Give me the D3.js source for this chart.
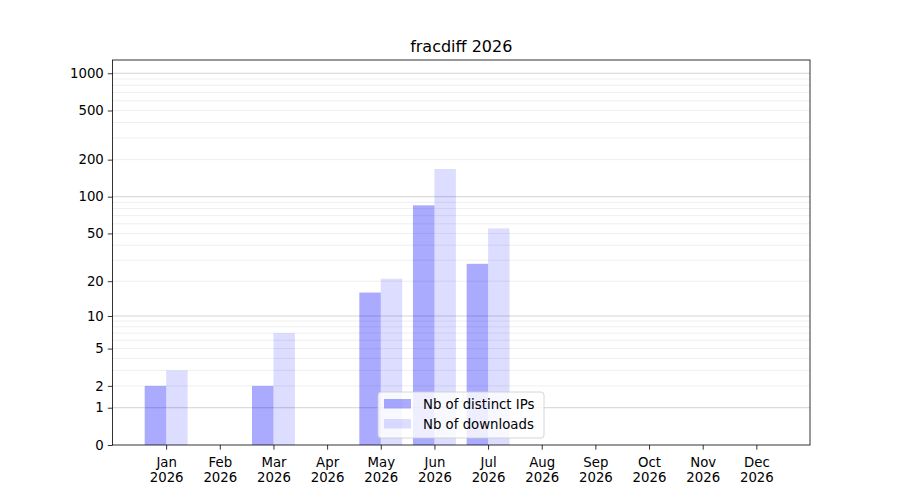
<!DOCTYPE html>
<html lang="en">
<head>
<meta charset="UTF-8">
<title>fracdiff 2026</title>
<script src="https://d3js.org/d3.v7.min.js"></script>
<style>
  body { margin: 0; background: #fff; }
  svg { font-family: "DejaVu Sans", sans-serif; }
</style>
</head>
<body>
<svg width="900" height="500"></svg>
<script>
// data
const months = ["Jan", "Feb", "Mar", "Apr", "May", "Jun", "Jul", "Aug", "Sep", "Oct", "Nov", "Dec"];
const year = "2026";
const distinctIPs = [2, 0, 2, 0, 16, 85, 28, 0, 0, 0, 0, 0];
const downloads = [3, 0, 7, 0, 21, 168, 55, 0, 0, 0, 0, 0];
const yTicks = [0, 1, 2, 5, 10, 20, 50, 100, 200, 500, 1000];
const majorGrid = [1, 10, 100, 1000];
const minorGrid = [];
[1, 10, 100].forEach(d => { for (let k = 2; k <= 9; k++) minorGrid.push(k * d); });

const margin = { top: 60, right: 90, bottom: 55, left: 112.5 };
const width = 900, height = 500;
const svg = d3.select("svg");

// x: month index, one slot of padding on each side
const x = d3.scaleLinear().domain([-1, 12]).range([margin.left, width - margin.right]);
// y: log(1 + v)
const y = d3.scaleSymlog().constant(1).domain([0, 1280]).range([height - margin.bottom, margin.top]);
const barW = x(0.4) - x(0);

// grid
svg.append("g").selectAll("line").data(minorGrid).join("line")
  .attr("x1", x.range()[0]).attr("x2", x.range()[1])
  .attr("y1", d => y(d)).attr("y2", d => y(d))
  .attr("stroke", "#ebebeb").attr("stroke-width", 0.8);
svg.append("g").selectAll("line").data(majorGrid).join("line")
  .attr("x1", x.range()[0]).attr("x2", x.range()[1])
  .attr("y1", d => y(d)).attr("y2", d => y(d))
  .attr("stroke", "#c8c8c8").attr("stroke-width", 0.8);

// bars
svg.append("g").selectAll("rect").data(distinctIPs).join("rect")
  .attr("x", (d, i) => x(i) - barW)
  .attr("width", barW)
  .attr("y", d => y(d))
  .attr("height", d => y(0) - y(d))
  .attr("fill", "blue").attr("fill-opacity", 0.333);
svg.append("g").selectAll("rect").data(downloads).join("rect")
  .attr("x", (d, i) => x(i))
  .attr("width", barW)
  .attr("y", d => y(d))
  .attr("height", d => y(0) - y(d))
  .attr("fill", "blue").attr("fill-opacity", 0.133);

// axes
const yAxis = svg.append("g")
  .attr("transform", `translate(${margin.left},0)`)
  .call(d3.axisLeft(y).tickValues(yTicks).tickFormat(d3.format("d")).tickSize(4.7).tickPadding(4));
const xAxis = svg.append("g")
  .attr("transform", `translate(0,${height - margin.bottom})`)
  .call(d3.axisBottom(x).tickValues(d3.range(12)).tickFormat("").tickSize(4.7));
[yAxis, xAxis].forEach(a => {
  a.select(".domain").remove();
  a.selectAll(".tick line").attr("stroke", "#000").attr("stroke-width", 0.8);
  a.selectAll("text").attr("font-size", 13.3).attr("fill", "#000").attr("font-family", "DejaVu Sans");
});
xAxis.selectAll(".tick").append("text")
  .attr("text-anchor", "middle").attr("font-size", 13.3).attr("fill", "#000")
  .attr("font-family", "DejaVu Sans")
  .each(function (d) {
    const t = d3.select(this);
    t.append("tspan").attr("x", 0).attr("y", 22).text(months[d]);
    t.append("tspan").attr("x", 0).attr("y", 37).text(year);
  });

// frame
svg.append("rect")
  .attr("x", margin.left).attr("y", margin.top)
  .attr("width", width - margin.right - margin.left)
  .attr("height", height - margin.bottom - margin.top)
  .attr("fill", "none").attr("stroke", "#000").attr("stroke-width", 0.8);

// title
svg.append("text")
  .attr("x", (margin.left + width - margin.right) / 2).attr("y", 52)
  .attr("text-anchor", "middle").attr("font-size", 16)
  .text("fracdiff 2026");

// legend
const legendItems = [
  { label: "Nb of distinct IPs", opacity: 0.333 },
  { label: "Nb of downloads", opacity: 0.133 }
];
const lg = svg.append("g").attr("transform", "translate(378,392)");
lg.append("rect").attr("width", 166).attr("height", 46).attr("rx", 3)
  .attr("fill", "#fff").attr("fill-opacity", 0.8)
  .attr("stroke", "#cccccc").attr("stroke-width", 0.8);
legendItems.forEach((it, i) => {
  lg.append("rect").attr("x", 6).attr("y", 7 + i * 20).attr("width", 27).attr("height", 9.5)
    .attr("fill", "blue").attr("fill-opacity", it.opacity);
  lg.append("text").attr("x", 45).attr("y", 16.5 + i * 20)
    .attr("font-size", 13.3).text(it.label);
});
</script>
</body>
</html>
